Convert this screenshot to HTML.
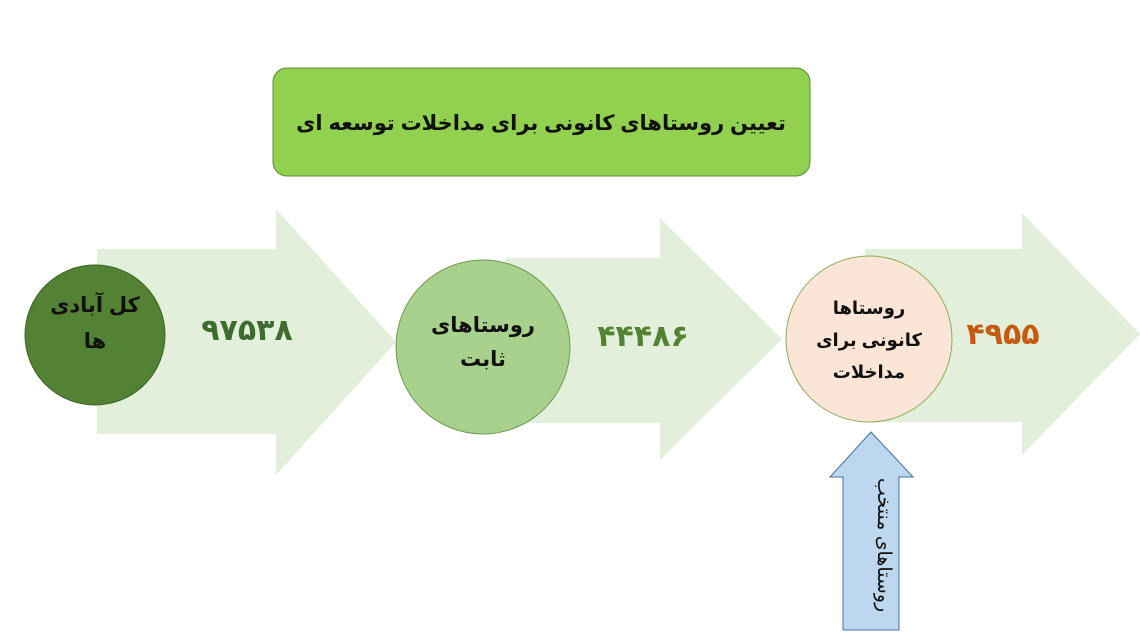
<!DOCTYPE html>
<html><head><meta charset="utf-8"><style>
body{margin:0;width:1140px;height:643px;background:#fff;overflow:hidden}
svg{display:block}
text{font-family:"Liberation Sans","DejaVu Sans",sans-serif;font-weight:bold}
</style></head><body>
<svg width="1140" height="643" viewBox="0 0 1140 643">
<rect x="273" y="68" width="537" height="108" rx="14" fill="#92d050" stroke="#5b8c3b" stroke-width="1"/>
<text x="541" y="130" font-size="21" text-anchor="middle" fill="#111" direction="rtl">تعیین روستاهای کانونی برای مداخلات توسعه ای</text>

<polygon points="97,249 276,249 276,209 396,342 276,475 276,434 97,434" fill="#e2efda"/>
<polygon points="505,258 660,258 660,218 782,339 660,460 660,423 505,423" fill="#e2efda"/>
<polygon points="865,249 1022,249 1022,213 1140,334 1022,455 1022,422 865,422" fill="#e2efda"/>

<circle cx="95" cy="335" r="70" fill="#548235" stroke="#3d6128"/>
<text x="95" y="312" font-size="21" text-anchor="middle" fill="#111" direction="rtl">کل آبادی</text>
<text x="95" y="348" font-size="21" text-anchor="middle" fill="#111" direction="rtl">ها</text>
<text x="247" y="340" font-size="30" text-anchor="middle" fill="#3d6b30">۹۷۵۳۸</text>

<circle cx="483" cy="347" r="87" fill="#a9d18e" stroke="#6f9a52"/>
<text x="483" y="332" font-size="21" text-anchor="middle" fill="#111" direction="rtl">روستاهای</text>
<text x="483" y="366" font-size="21" text-anchor="middle" fill="#111" direction="rtl">ثابت</text>
<text x="643" y="346" font-size="30" text-anchor="middle" fill="#548235">۴۴۴۸۶</text>

<circle cx="869" cy="339" r="83" fill="#fbe5d6" stroke="#8faa5a"/>
<text x="869" y="314" font-size="18" text-anchor="middle" fill="#111" direction="rtl">روستاها</text>
<text x="869" y="346" font-size="18" text-anchor="middle" fill="#111" direction="rtl">کانونی برای</text>
<text x="869" y="378" font-size="18" text-anchor="middle" fill="#111" direction="rtl">مداخلات</text>
<text x="1003" y="344" font-size="30" text-anchor="middle" fill="#c55a11">۴۹۵۵</text>

<polygon points="843,630 843,477 830,477 871,432 913,477 899,477 899,630" fill="#bdd7ee" stroke="#41719c" stroke-width="1"/>
<text transform="translate(878,545) rotate(90)" font-size="19" text-anchor="middle" fill="#111" direction="rtl" style="font-weight:normal">روستاهای منتخب</text>
</svg>
</body></html>
